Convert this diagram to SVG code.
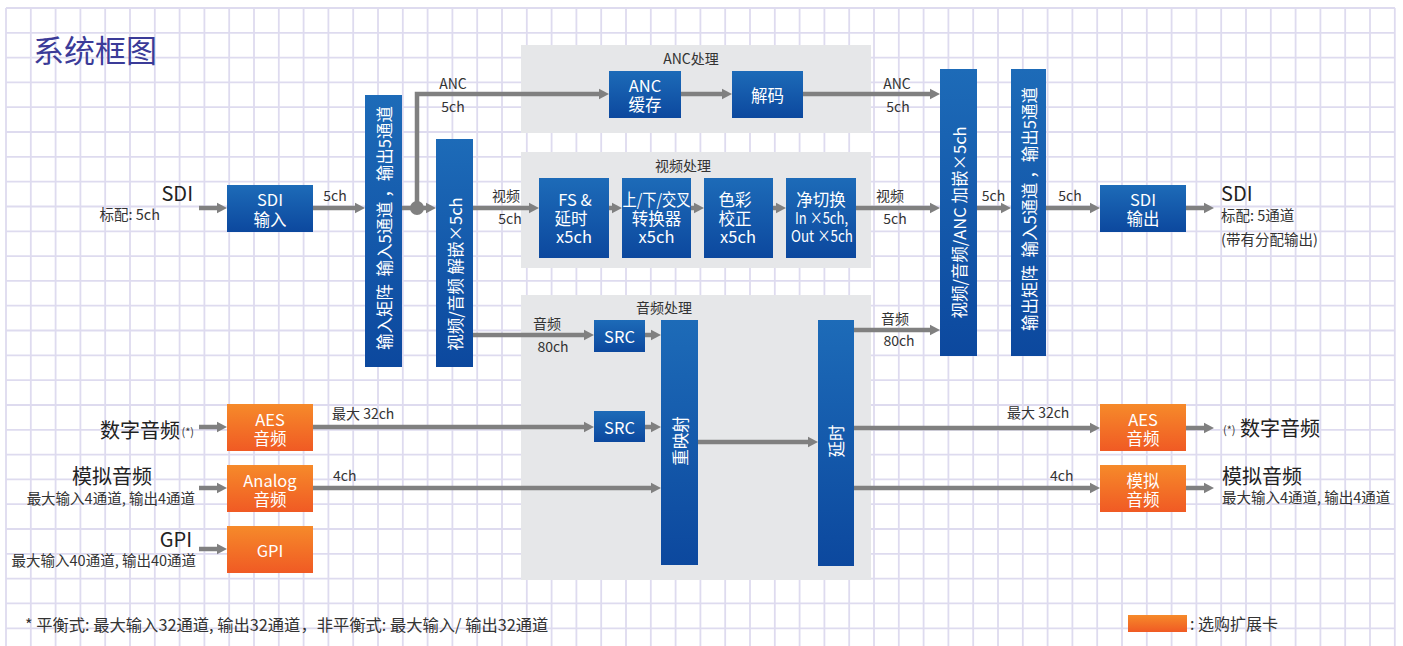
<svg xmlns="http://www.w3.org/2000/svg" width="1403" height="646" viewBox="0 0 1403 646">
<defs>
<linearGradient id="gb" x1="0" y1="0" x2="0" y2="1"><stop offset="0" stop-color="#1d6bb8"/><stop offset="1" stop-color="#0c489e"/></linearGradient>
<linearGradient id="go" x1="0" y1="0" x2="0" y2="1"><stop offset="0" stop-color="#f68a2a"/><stop offset="1" stop-color="#f05a24"/></linearGradient>
<marker id="ah" markerUnits="userSpaceOnUse" markerWidth="11" markerHeight="12" refX="0.5" refY="6" orient="auto" viewBox="0 0 11 12"><path d="M0,0.5 L10.5,6 L0,11.5 Z" fill="#808080"/></marker>
<style>
text{font-family:"Noto Sans CJK SC","Noto Sans",sans-serif;}
.grid{stroke:#dedbef;stroke-width:1.8;fill:none;}
.panel{fill:#e6e7e9;}
.bb{fill:url(#gb);}
.ob{fill:url(#go);}
.bt{fill:#fff;font-size:16.5px;text-anchor:middle;dominant-baseline:central;}
.vt{fill:#fff;font-size:16.5px;text-anchor:middle;dominant-baseline:central;white-space:pre;}
.lb{fill:#333;font-size:14px;}
.c{text-anchor:middle;}
.e{text-anchor:end;}
.big{fill:#222;font-size:20px;}
.sm{fill:#333;font-size:14.5px;}
.pt{fill:#333;font-size:14px;text-anchor:middle;}
.cn{stroke:#808080;stroke-width:4.5;fill:none;marker-end:url(#ah);}
</style>
</defs>
<rect width="1403" height="646" fill="#fff"/>
<g id="grid">
<path class="grid" d="M6,8V646M30.8,8V646M55.6,8V646M80.4,8V646M105.2,8V646M130,8V646M154.8,8V646M179.6,8V646M204.4,8V646M229.2,8V646M254,8V646M278.8,8V646M303.6,8V646M328.4,8V646M353.2,8V646M378,8V646M402.8,8V646M427.6,8V646M452.4,8V646M477.2,8V646M502,8V646M526.8,8V646M551.6,8V646M576.4,8V646M601.2,8V646M626,8V646M650.8,8V646M675.6,8V646M700.4,8V646M725.2,8V646M750,8V646M774.8,8V646M799.6,8V646M824.4,8V646M849.2,8V646M874,8V646M898.8,8V646M923.6,8V646M948.4,8V646M973.2,8V646M998,8V646M1022.8,8V646M1047.6,8V646M1072.4,8V646M1097.2,8V646M1122,8V646M1146.8,8V646M1171.6,8V646M1196.4,8V646M1221.2,8V646M1246,8V646M1270.8,8V646M1295.6,8V646M1320.4,8V646M1345.2,8V646M1370,8V646M1394.8,8V646"/>
<path class="grid" d="M6,8H1395M6,32.8H1395M6,57.6H1395M6,82.4H1395M6,107.2H1395M6,132H1395M6,156.9H1395M6,181.7H1395M6,206.5H1395M6,231.3H1395M6,256.1H1395M6,280.9H1395M6,305.7H1395M6,330.5H1395M6,355.3H1395M6,380.2H1395M6,405H1395M6,429.8H1395M6,454.6H1395M6,479.4H1395M6,504.2H1395M6,529H1395M6,553.8H1395M6,578.6H1395M6,603.4H1395M6,628.3H1395"/>
</g>
<text x="33" y="62" font-size="31" fill="#3b3b98">系统框图</text>
<g id="panels">
<rect class="panel" x="521" y="45" width="350" height="88"/>
<rect class="panel" x="521" y="152" width="350" height="116"/>
<rect class="panel" x="521" y="295" width="350" height="285"/>
<text class="pt" x="691" y="64">ANC处理</text>
<text class="pt" x="683" y="171">视频处理</text>
<text class="pt" x="664" y="313">音频处理</text>
</g>
<g id="connectors">
<path class="cn" d="M199,208H217"/>
<path class="cn" d="M313,208H355"/>
<path class="cn" d="M402,208H426"/>
<path class="cn" d="M417,208V94H599"/>
<circle cx="417" cy="208" r="7" fill="#808080"/>
<path class="cn" d="M681,94H722"/>
<path class="cn" d="M803,94H930"/>
<path class="cn" d="M473,208H529"/>
<path class="cn" d="M609,208H612"/>
<path class="cn" d="M691,208H694"/>
<path class="cn" d="M773,208H776"/>
<path class="cn" d="M856,208H930"/>
<path class="cn" d="M473,335H584"/>
<path class="cn" d="M645,335H651"/>
<path class="cn" d="M313,427H584"/>
<path class="cn" d="M645,427H651"/>
<path class="cn" d="M313,488H651"/>
<path class="cn" d="M698,442H808"/>
<path class="cn" d="M854,330H930"/>
<path class="cn" d="M854,428H1090"/>
<path class="cn" d="M854,488H1090"/>
<path class="cn" d="M1186,428H1204"/>
<path class="cn" d="M1186,488H1204"/>
<path class="cn" d="M977,208H1001"/>
<path class="cn" d="M1046,208H1090"/>
<path class="cn" d="M1186,208H1204"/>
<path class="cn" d="M199,427H217"/>
<path class="cn" d="M199,488H217"/>
<path class="cn" d="M199,549H217"/>
<text class="lb c" x="453" y="89">ANC</text>
<text class="lb c" x="453" y="112">5ch</text>
<text class="lb c" x="897" y="89">ANC</text>
<text class="lb c" x="898" y="112">5ch</text>
<text class="lb c" x="335" y="201">5ch</text>
<text class="lb c" x="506" y="201">视频</text>
<text class="lb c" x="510" y="224">5ch</text>
<text class="lb c" x="890" y="201">视频</text>
<text class="lb c" x="895" y="224">5ch</text>
<text class="lb c" x="547" y="329">音频</text>
<text class="lb c" x="553" y="352">80ch</text>
<text class="lb c" x="895" y="324">音频</text>
<text class="lb c" x="899" y="346">80ch</text>
<text class="lb c" x="993.5" y="201">5ch</text>
<text class="lb c" x="1070" y="201">5ch</text>
<text class="lb" x="332" y="419">最大 32ch</text>
<text class="lb" x="1007" y="418">最大 32ch</text>
<text class="lb" x="333" y="481">4ch</text>
<text class="lb" x="1050" y="481">4ch</text>
</g>
<g id="sdi-in"><rect class="bb" x="227" y="185" width="86" height="47"/><text class="bt" x="270" y="199">SDI</text><text class="bt" x="270" y="218.5">输入</text></g>
<g id="in-matrix"><rect class="bb" x="365" y="95" width="37" height="272"/><text class="vt" transform="translate(383.5,228) rotate(-90)">输入矩阵  输入5通道 ，输出5通道</text></g>
<g id="demux"><rect class="bb" x="436" y="139" width="37" height="228"/><text class="vt" font-size="17" transform="translate(454.5,274) rotate(-90)">视频/音频 解嵌×5ch</text></g>
<g id="anc-buf"><rect class="bb" x="609" y="71" width="72" height="47"/><text class="bt" x="645" y="85">ANC</text><text class="bt" x="645" y="103.5">缓存</text></g>
<g id="decode"><rect class="bb" x="732" y="71" width="71" height="47"/><text class="bt" x="767.5" y="94.5">解码</text></g>
<g id="fs"><rect class="bb" x="539" y="178" width="70" height="80"/><text class="bt" x="575" y="199">FS &amp;</text><text class="bt" x="571" y="217.5">延时</text><text class="bt" x="574" y="235.5">x5ch</text></g>
<g id="conv"><rect class="bb" x="622" y="178" width="69" height="80"/><text class="bt" x="656.5" y="199" textLength="68" lengthAdjust="spacingAndGlyphs">上/下/交叉</text><text class="bt" x="656.5" y="217.5">转换器</text><text class="bt" x="656.5" y="235.5">x5ch</text></g>
<g id="color"><rect class="bb" x="704" y="178" width="69" height="80"/><text class="bt" x="735" y="199">色彩</text><text class="bt" x="735" y="218">校正</text><text class="bt" x="738" y="235.5">x5ch</text></g>
<g id="switch"><rect class="bb" x="786" y="178" width="70" height="80"/><text class="bt" x="821" y="199">净切换</text><text class="bt" x="821.5" y="217" font-size="14.5" textLength="53" lengthAdjust="spacingAndGlyphs">In ×5ch,</text><text class="bt" x="822" y="235" font-size="14.5" textLength="62" lengthAdjust="spacingAndGlyphs">Out ×5ch</text></g>
<g id="src1"><rect class="bb" x="594" y="320" width="51" height="32"/><text class="bt" x="619.5" y="336" font-size="17">SRC</text></g>
<g id="src2"><rect class="bb" x="594" y="411" width="51" height="31"/><text class="bt" x="619.5" y="426.5" font-size="17">SRC</text></g>
<g id="remap"><rect class="bb" x="661" y="320" width="37" height="245"/><text class="vt" transform="translate(679.5,441) rotate(-90)">重映射</text></g>
<g id="delay"><rect class="bb" x="818" y="320" width="36" height="246"/><text class="vt" transform="translate(836,441) rotate(-90)">延时</text></g>
<g id="av-embed"><rect class="bb" x="940" y="69" width="37" height="287"/><text class="vt" font-size="17" transform="translate(958.5,222.5) rotate(-90)">视频/音频/ANC 加嵌×5ch</text></g>
<g id="out-matrix"><rect class="bb" x="1011" y="69" width="35" height="287"/><text class="vt" transform="translate(1028.5,209) rotate(-90)">输出矩阵  输入5通道 ，输出5通道</text></g>
<g id="sdi-out"><rect class="bb" x="1100" y="185" width="86" height="47"/><text class="bt" x="1143" y="199">SDI</text><text class="bt" x="1143" y="218">输出</text></g>
<g id="aes-in"><rect class="ob" x="227" y="404" width="86" height="47"/><text class="bt" x="270" y="419">AES</text><text class="bt" x="270" y="437.5">音频</text></g>
<g id="analog-in"><rect class="ob" x="227" y="465" width="86" height="47"/><text class="bt" x="270" y="480" font-size="17">Analog</text><text class="bt" x="270" y="499">音频</text></g>
<g id="gpi"><rect class="ob" x="227" y="526" width="86" height="47"/><text class="bt" x="270" y="549.5" font-size="17">GPI</text></g>
<g id="aes-out"><rect class="ob" x="1100" y="404" width="86" height="47"/><text class="bt" x="1143" y="419">AES</text><text class="bt" x="1143" y="437.5">音频</text></g>
<g id="analog-out"><rect class="ob" x="1100" y="465" width="86" height="47"/><text class="bt" x="1143" y="480">模拟</text><text class="bt" x="1143" y="499">音频</text></g>
<g id="io-labels">
<text class="big e" x="193" y="201">SDI</text>
<text class="sm e" x="160" y="220">标配: 5ch</text>
<text class="big e" x="180" y="438">数字音频</text>
<text class="e" x="194" y="436" font-size="11" fill="#333">(*)</text>
<text class="big e" x="152" y="484">模拟音频</text>
<text class="sm e" x="195" y="504" font-size="15">最大输入4通道, 输出4通道</text>
<text class="big e" x="192" y="547">GPI</text>
<text class="sm e" x="196" y="566" font-size="15">最大输入40通道, 输出40通道</text>
<text class="big" x="1221" y="201">SDI</text>
<text class="sm" x="1221" y="221">标配: 5通道</text>
<text class="sm" x="1221" y="245">(带有分配输出)</text>
<text x="1223" y="434" font-size="11" fill="#333">(*)</text>
<text class="big" x="1240" y="436">数字音频</text>
<text class="big" x="1222" y="484">模拟音频</text>
<text class="sm" x="1222" y="503" font-size="15">最大输入4通道, 输出4通道</text>
</g>
<g id="footer">
<text x="25" y="631" font-size="16.3" fill="#333">* 平衡式: 最大输入32通道, 输出32通道，非平衡式: 最大输入/ 输出32通道</text>
<rect class="ob" x="1128" y="615" width="59" height="17"/>
<text x="1190" y="630" font-size="16" fill="#333">: 选购扩展卡</text>
</g>
</svg>
